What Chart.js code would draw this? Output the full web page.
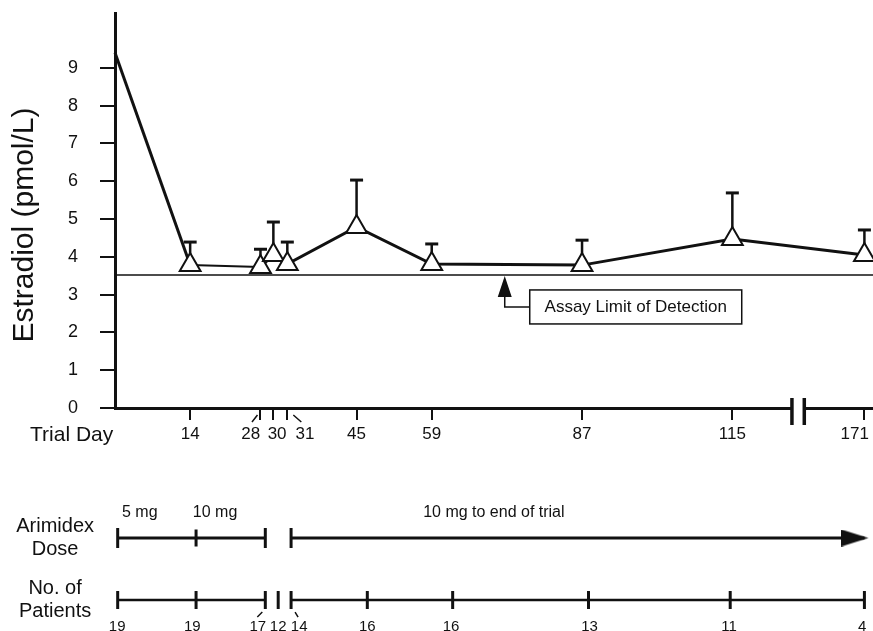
<!DOCTYPE html>
<html>
<head>
<meta charset="utf-8">
<title>Estradiol during Arimidex trial</title>
<script src="https://cdn.jsdelivr.net/npm/chart.js@4.4.1/dist/chart.umd.min.js"></script>
<style>
  html, body { margin: 0; padding: 0; background: #fff; }
  #wrap { position: relative; width: 873px; height: 631px; overflow: hidden; }
  canvas { position: absolute; left: 0; }
  #mainChart { top: 0; }
  #timeline { top: 450px; }
</style>
</head>
<body>
<div id="wrap">
  <canvas id="mainChart" width="873" height="450"></canvas>
  <canvas id="timeline" width="873" height="181"></canvas>
</div>
<script>
// values
const trialDays = [0, 14, 28, 30, 31, 45, 59, 87, 115, 171];
// where each day sits on the drawn day axis (28/30/31 spread apart, break before 171)
const dayAxisPos = [0, 14, 27.1, 29.5, 32.1, 45, 59, 87, 115, 139.6];
// where the day numbers are written (28, 31 and 171 pushed aside)
const dayLabelPos = [14, 25.3, 30.2, 35.4, 45, 59, 87, 115, 137.8];
const estradiolMean = [9.4, 3.78, 3.73, 4.05, 3.81, 4.79, 3.81, 3.78, 4.47, 4.05];
const estradiolUpper = [null, 4.39, 4.2, 4.92, 4.39, 6.03, 4.34, 4.44, 5.69, 4.71];
const detectionLimit = 3.52;
const yTicks = [0, 1, 2, 3, 4, 5, 6, 7, 8, 9];
const axisBreak = [126.1, 128.4];
const limitNoteAt = 72.6;

// lower timeline (its own spacing, same day units)
const timelinePos = [0.5, 15.1, 28, 30.4, 32.8, 47, 62.9, 88.2, 114.6, 139.6];
const patientLabelPos = [0.4, 14.4, 26.6, 30.4, 34.3, 47, 62.6, 88.4, 114.4, 139.2];
const patients = [19, 19, 17, 12, 14, 16, 16, 13, 11, 4];
const doseDays = [0, 14, 28, 31, 171];
const timelineGap = [28, 30]; // no line drawn after these days
const doseText = ['5 mg', '10 mg', '10 mg to end of trial'];
const doseTextAt = [1.3, 14.5, 57.4];

const FONT = "'Liberation Sans', Arial, Helvetica, sans-serif";
const INK = '#111';
const X_MAX = 141.2;

Chart.defaults.font.family = FONT;
Chart.defaults.color = INK;
Chart.defaults.animation = false;

// error bars: mean -> upper, then a gap
const errorBars = [];
trialDays.forEach((d, i) => {
  if (estradiolUpper[i] == null) return;
  errorBars.push({ x: dayAxisPos[i], y: estradiolMean[i] });
  errorBars.push({ x: dayAxisPos[i], y: estradiolUpper[i] });
  errorBars.push({ x: dayAxisPos[i], y: null });
});

const noPad = s => { s.paddingLeft = 0; s.paddingRight = 0; s.paddingTop = 0; s.paddingBottom = 0; };

// texts and marks around the main plot
const mainNotes = {
  id: 'mainNotes',
  afterDraw(chart) {
    const { ctx, chartArea: a, scales: { x, y } } = chart;
    ctx.save();
    ctx.fillStyle = INK;
    ctx.strokeStyle = INK;

    // y title
    ctx.save();
    ctx.translate(24.5, 225);
    ctx.rotate(-Math.PI / 2);
    ctx.font = `30px ${FONT}`;
    ctx.textAlign = 'center';
    ctx.textBaseline = 'middle';
    ctx.fillText('Estradiol (pmol/L)', 0, 0);
    ctx.restore();

    ctx.font = `21px ${FONT}`;
    ctx.textAlign = 'left';
    ctx.textBaseline = 'alphabetic';
    ctx.fillText('Trial Day', 30, 441);

    // axis break
    const b0 = x.getPixelForValue(axisBreak[0]);
    const b1 = x.getPixelForValue(axisBreak[1]);
    ctx.fillStyle = '#fff';
    ctx.fillRect(b0, a.bottom - 4, b1 - b0, 8);
    ctx.fillStyle = INK;
    ctx.lineWidth = 3.5;
    [b0, b1].forEach(bx => {
      ctx.beginPath();
      ctx.moveTo(bx, a.bottom - 10);
      ctx.lineTo(bx, a.bottom + 17);
      ctx.stroke();
    });

    // little leader marks for 28 and 31
    ctx.lineWidth = 1.5;
    const p28 = x.getPixelForValue(dayAxisPos[2]);
    const p31 = x.getPixelForValue(dayAxisPos[4]);
    ctx.beginPath();
    ctx.moveTo(p28 - 8.5, a.bottom + 14);
    ctx.lineTo(p28 - 3, a.bottom + 7);
    ctx.moveTo(p31 + 6, a.bottom + 7);
    ctx.lineTo(p31 + 14, a.bottom + 14);
    ctx.stroke();

    // detection limit note
    const tipX = x.getPixelForValue(limitNoteAt);
    const tipY = y.getPixelForValue(detectionLimit) + 1;
    ctx.beginPath();
    ctx.moveTo(tipX, tipY);
    ctx.lineTo(tipX + 7, tipY + 21);
    ctx.lineTo(tipX - 7, tipY + 21);
    ctx.closePath();
    ctx.fill();
    ctx.lineWidth = 1.5;
    ctx.beginPath();
    ctx.moveTo(tipX, tipY + 20);
    ctx.lineTo(tipX, tipY + 31);
    ctx.lineTo(tipX + 25, tipY + 31);
    ctx.stroke();
    ctx.strokeRect(tipX + 25, tipY + 14, 212, 34);
    ctx.font = `17px ${FONT}`;
    ctx.textAlign = 'center';
    ctx.textBaseline = 'middle';
    ctx.fillText('Assay Limit of Detection', tipX + 25 + 106, tipY + 31);
    ctx.restore();
  }
};

new Chart(document.getElementById('mainChart'), {
  type: 'line',
  data: {
    datasets: [
      {
        data: dayAxisPos.map((x, i) => ({ x, y: estradiolMean[i] })),
        borderColor: INK,
        borderWidth: 3,
        segment: { borderWidth: ctx => (ctx.p0DataIndex === 1 ? 2 : 3) },
        pointStyle: 'triangle',
        pointRadius: ctx => (ctx.dataIndex === 0 ? 0 : 12),
        pointBackgroundColor: '#fff',
        pointBorderColor: INK,
        pointBorderWidth: 2,
        clip: false,
        order: 0
      },
      {
        data: errorBars,
        borderColor: INK,
        borderWidth: 2.5,
        spanGaps: false,
        pointStyle: 'line',
        pointRadius: ctx => (ctx.dataIndex % 3 === 1 ? 6.5 : 0),
        pointBorderColor: INK,
        pointBorderWidth: 3,
        clip: false,
        order: 1
      },
      {
        data: [{ x: 0, y: detectionLimit }, { x: X_MAX, y: detectionLimit }],
        borderColor: INK,
        borderWidth: 1.5,
        pointRadius: 0,
        order: 2
      }
    ]
  },
  options: {
    responsive: false,
    devicePixelRatio: 1,
    events: [],
    layout: { autoPadding: false, padding: { top: 13, left: 0, right: 0, bottom: 0 } },
    plugins: { legend: { display: false }, tooltip: { enabled: false } },
    scales: {
      x: {
        type: 'linear',
        position: 'bottom',
        weight: 0,
        min: 0,
        max: X_MAX,
        afterBuildTicks: s => { s.ticks = dayAxisPos.slice(1).map(v => ({ value: v })); },
        ticks: { display: false },
        grid: { drawOnChartArea: false, drawTicks: true, tickLength: 12, color: INK, lineWidth: 2 },
        border: { display: true, color: INK, width: 3 },
        afterFit: s => { s.height = 12; noPad(s); }
      },
      xLabels: {
        type: 'linear',
        position: 'bottom',
        weight: 1,
        min: 0,
        max: X_MAX,
        afterBuildTicks: s => { s.ticks = dayLabelPos.map(v => ({ value: v })); },
        ticks: {
          autoSkip: false,
          maxRotation: 0,
          padding: 4,
          font: { size: 17 },
          color: INK,
          callback: (v, i) => String(trialDays[i + 1])
        },
        grid: { display: false, drawTicks: false },
        border: { display: false },
        afterFit: s => { s.height = 30; noPad(s); }
      },
      y: {
        type: 'linear',
        min: 0,
        max: 10.45,
        afterBuildTicks: s => { s.ticks = yTicks.map(v => ({ value: v })); },
        ticks: { padding: 22, font: { size: 18 }, color: INK },
        grid: { drawOnChartArea: false, drawTicks: true, tickLength: 15, color: INK, lineWidth: 2 },
        border: { display: true, color: INK, width: 3 },
        afterFit: s => { s.width = 115; noPad(s); }
      }
    }
  },
  plugins: [mainNotes]
});

// ---- lower timeline: dose and number of patients ----
const posOfDay = d => timelinePos[trialDays.indexOf(d)];
const arrowHead = document.createElement('canvas');
arrowHead.width = 46;
arrowHead.height = 17;
{
  const g = arrowHead.getContext('2d');
  g.fillStyle = INK;
  g.beginPath();
  g.moveTo(0, 0);
  g.lineTo(27, 8.5);
  g.lineTo(0, 17);
  g.closePath();
  g.fill();
}

const gapSegment = days => ({
  borderColor: ctx => (timelineGap.includes(days[ctx.p0DataIndex]) ? 'rgba(0,0,0,0)' : INK)
});

const timelineNotes = {
  id: 'timelineNotes',
  afterDraw(chart) {
    const { ctx, scales: { x, y } } = chart;
    ctx.save();
    ctx.fillStyle = INK;
    ctx.strokeStyle = INK;
    ctx.font = `16px ${FONT}`;
    ctx.textAlign = 'left';
    ctx.textBaseline = 'alphabetic';
    const rowY = y.getPixelForValue(2);
    doseText.forEach((t, i) => ctx.fillText(t, x.getPixelForValue(doseTextAt[i]), rowY - 21));

    // leader marks for 17 and 14
    const base = y.getPixelForValue(1);
    const p17 = x.getPixelForValue(posOfDay(28));
    const p14 = x.getPixelForValue(posOfDay(31));
    ctx.lineWidth = 1.5;
    ctx.beginPath();
    ctx.moveTo(p17 - 8, base + 17);
    ctx.lineTo(p17 - 3, base + 12);
    ctx.moveTo(p14 + 4, base + 12);
    ctx.lineTo(p14 + 7, base + 17);
    ctx.stroke();
    ctx.restore();
  }
};

new Chart(document.getElementById('timeline'), {
  type: 'line',
  data: {
    datasets: [
      {
        data: doseDays.map(d => ({ x: posOfDay(d), y: 2 })),
        borderColor: INK,
        borderWidth: 3,
        segment: gapSegment(doseDays),
        pointStyle: ctx => (ctx.dataIndex === doseDays.length - 1 ? arrowHead : 'line'),
        pointRotation: ctx => (ctx.dataIndex === doseDays.length - 1 ? 0 : 90),
        pointRadius: ctx => (ctx.dataIndex === 1 ? 8.5 : 10),
        pointBorderColor: INK,
        pointBorderWidth: 3,
        clip: false
      },
      {
        data: timelinePos.map(x => ({ x, y: 1 })),
        borderColor: INK,
        borderWidth: 2.5,
        segment: gapSegment(trialDays),
        pointStyle: 'line',
        pointRotation: 90,
        pointRadius: 9,
        pointBorderColor: INK,
        pointBorderWidth: 3,
        clip: false
      }
    ]
  },
  options: {
    responsive: false,
    devicePixelRatio: 1,
    events: [],
    layout: { autoPadding: false, padding: 0 },
    plugins: { legend: { display: false }, tooltip: { enabled: false } },
    scales: {
      x: {
        type: 'linear',
        min: 0,
        max: X_MAX,
        afterBuildTicks: s => { s.ticks = patientLabelPos.map(v => ({ value: v })); },
        ticks: {
          autoSkip: false,
          maxRotation: 0,
          padding: 8,
          font: { size: 15 },
          color: INK,
          callback: (v, i) => String(patients[i])
        },
        grid: { display: false, drawTicks: false },
        border: { display: false },
        afterFit: s => { s.height = 21; noPad(s); }
      },
      y: {
        type: 'linear',
        min: 0.839,
        max: 3.419,
        afterBuildTicks: s => { s.ticks = [{ value: 1 }, { value: 2 }]; },
        ticks: {
          crossAlign: 'center',
          padding: 21,
          font: { size: 20, lineHeight: 1.15 },
          color: INK,
          callback: v => (v === 2 ? ['Arimidex', 'Dose'] : ['No. of', 'Patients'])
        },
        grid: { display: false, drawTicks: false },
        border: { display: false },
        afterFit: s => { s.width = 115; noPad(s); }
      }
    }
  },
  plugins: [timelineNotes]
});
</script>
</body>
</html>
